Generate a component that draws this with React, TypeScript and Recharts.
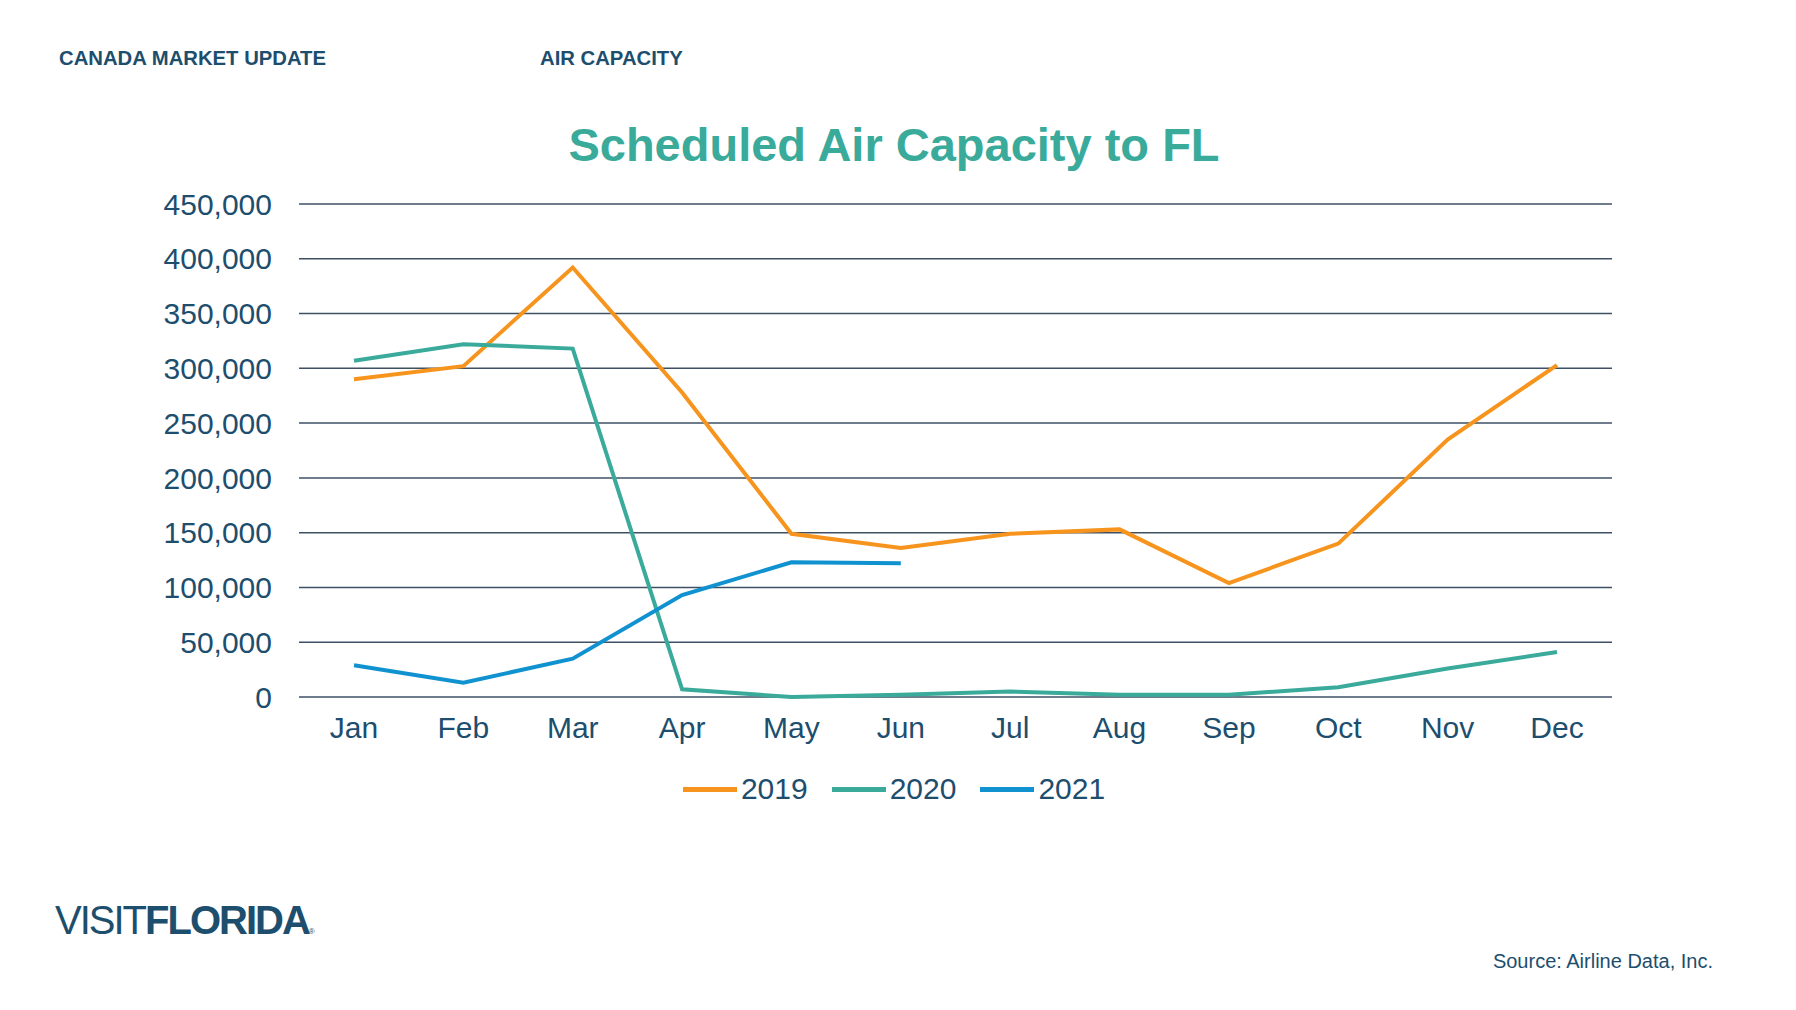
import React from 'react';
import { LineChart, Line, XAxis, YAxis, CartesianGrid } from 'recharts';

const months = ['Jan', 'Feb', 'Mar', 'Apr', 'May', 'Jun', 'Jul', 'Aug', 'Sep', 'Oct', 'Nov', 'Dec'];
const cap2019 = [290000, 302000, 392000, 278000, 149000, 136000, 149000, 153000, 104000, 140000, 235000, 303000];
const cap2020 = [307000, 322000, 318000, 7000, 0, 2000, 5000, 2000, 2000, 9000, 26000, 41000];
const cap2021 = [29000, 13000, 35000, 93000, 123000, 122000];
const yTicks = [0, 50000, 100000, 150000, 200000, 250000, 300000, 350000, 400000, 450000];

const data = months.map((m, i) => ({
    month: m,
    y2019: cap2019[i],
    y2020: cap2020[i],
    y2021: i < cap2021.length ? cap2021[i] : null,
}));

const NAVY = '#1d4e6e';
const FONT = 'Arial, "Liberation Sans", sans-serif';
const series = [
    { key: 'y2019', name: '2019', color: '#F7941D' },
    { key: 'y2020', name: '2020', color: '#3AAA9B' },
    { key: 'y2021', name: '2021', color: '#1192D0' },
];

export default function App() {
    return (
        <div style={{ position: 'absolute', left: 0, top: 0, width: 1796, height: 1010, background: '#fff', fontFamily: FONT }}>
            <div style={{ position: 'absolute', left: 59, top: 47, fontSize: 20.3, fontWeight: 'bold', color: NAVY }}>CANADA MARKET UPDATE</div>
            <div style={{ position: 'absolute', left: 540, top: 47, fontSize: 20.3, fontWeight: 'bold', color: NAVY }}>AIR CAPACITY</div>
            <div style={{ position: 'absolute', left: 0, width: 1788, top: 117, textAlign: 'center', fontSize: 47, fontWeight: 'bold', color: '#3AAA9B' }}>
                Scheduled Air Capacity to FL
            </div>
            <div style={{ position: 'absolute', left: 0, top: 0 }}>
                <LineChart width={1796} height={830} data={data} margin={{ top: 204, left: 149, right: 184, bottom: 93 }}>
                    <CartesianGrid vertical={false} stroke="#3f5064" strokeWidth={1.5} />
                    <XAxis dataKey="month" axisLine={false} tickLine={false} height={40} padding={{ left: 55, right: 55 }}
                        tick={{ fill: NAVY, fontSize: 30, fontFamily: FONT }} dy={12} />
                    <YAxis width={150} domain={[0, 450000]} ticks={yTicks} axisLine={false} tickLine={false}
                        tickFormatter={(v: number) => v.toLocaleString('en-US')}
                        tick={{ fill: NAVY, fontSize: 30, fontFamily: FONT }} dx={-19} />
                    {series.map((s) => (
                        <Line key={s.key} dataKey={s.key} stroke={s.color} strokeWidth={4} dot={false}
                            type="linear" isAnimationActive={false} />
                    ))}
                </LineChart>
            </div>
            <div style={{ position: 'absolute', left: 0, width: 1788, top: 772, display: 'flex', justifyContent: 'center', alignItems: 'center', gap: 24 }}>
                {series.map((s) => (
                    <div key={s.key} style={{ display: 'flex', alignItems: 'center', gap: 4 }}>
                        <div style={{ width: 54, height: 5, background: s.color }} />
                        <span style={{ fontSize: 30, color: NAVY }}>{s.name}</span>
                    </div>
                ))}
            </div>
            <div style={{ position: 'absolute', left: 55, top: 898, fontSize: 40, color: NAVY, letterSpacing: -2 }}>
                VISIT<b>FLORIDA</b><span style={{ fontSize: 8 }}>®</span>
            </div>
            <div style={{ position: 'absolute', right: 83, top: 950, fontSize: 20, color: NAVY }}>Source: Airline Data, Inc.</div>
        </div>
    );
}
